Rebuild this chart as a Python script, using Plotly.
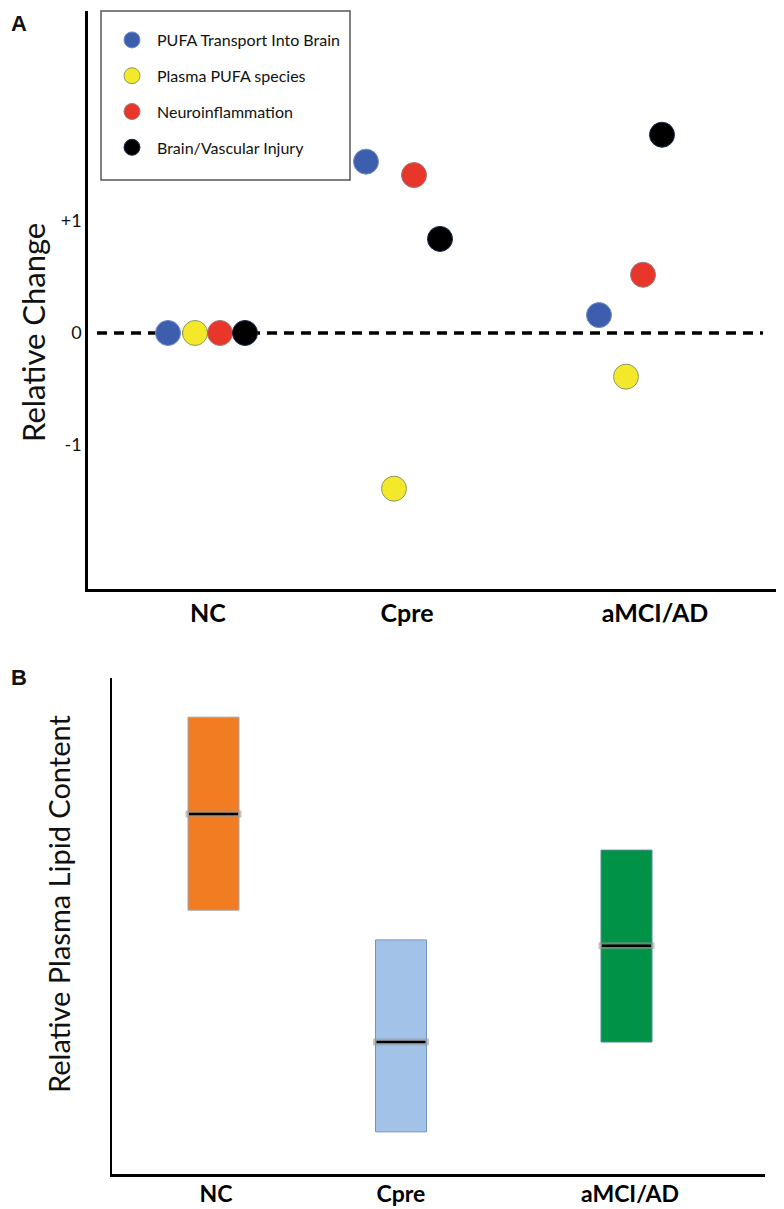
import plotly.graph_objects as go

# ---------------- Panel A data ----------------
groups_a = ["NC", "Cpre", "aMCI/AD"]
tick_pos_a = [1.20, 3.19, 5.67]             # category label positions on panel A x axis

series_names = ["PUFA Transport Into Brain", "Plasma PUFA species",
                "Neuroinflammation", "Brain/Vascular Injury"]
series_x = {
    "PUFA Transport Into Brain": [0.80, 2.78, 5.11],
    "Plasma PUFA species":       [1.07, 3.06, 5.38],
    "Neuroinflammation":         [1.32, 3.26, 5.55],
    "Brain/Vascular Injury":     [1.57, 3.52, 5.74],
}
series_y = {
    "PUFA Transport Into Brain": [0.0, 1.53, 0.16],
    "Plasma PUFA species":       [0.0, -1.39, -0.39],
    "Neuroinflammation":         [0.0, 1.41, 0.52],
    "Brain/Vascular Injury":     [0.0, 0.84, 1.77],
}
ytick_vals_a = [-1, 0, 1]
ytick_text_a = ["-1", "0", "+1"]
zero_line_x = [0.09, 6.75]
zero_line_y = [0, 0]
ytitle_a = "Relative Change"

# ---------------- Panel B data ----------------
groups_b = ["NC", "Cpre", "aMCI/AD"]
tick_pos_b = [1.04, 2.89, 5.18]
box_pos_b = [1.015, 2.89, 5.145]
box_low = [5.32, 0.85, 2.66]
box_high = [9.21, 4.72, 6.53]
box_median = [7.26, 2.66, 4.60]
box_width = 0.51
ytitle_b = "Relative Plasma Lipid Content"

# ---------------- styles ----------------
dot_fill = {
    "PUFA Transport Into Brain": "#3d5eac",
    "Plasma PUFA species": "#f3e82a",
    "Neuroinflammation": "#e8362a",
    "Brain/Vascular Injury": "#000000",
}
dot_edge = {
    "PUFA Transport Into Brain": "#6d8ccc",
    "Plasma PUFA species": "#8c9a60",
    "Neuroinflammation": "#a07878",
    "Brain/Vascular Injury": "#1a2a4a",
}
box_fill = ["#f27c22", "#a2c2e8", "#009247"]
box_edge = ["#9aa6b6", "#6f95c8", "#4e8f98"]

FONT = "Lato"
W, H = 784, 1209

fig = go.Figure()

# zero dashed line (panel A)
fig.add_trace(go.Scatter(x=zero_line_x, y=zero_line_y, mode="lines",
                         line=dict(color="black", width=3.5, dash="10px,7px"),
                         showlegend=False, hoverinfo="skip",
                         xaxis="x", yaxis="y"))

for name in series_names:
    fig.add_trace(go.Scatter(
        x=series_x[name], y=series_y[name], mode="markers", name=name,
        legendgroup=name,
        marker=dict(size=25, color=dot_fill[name],
                    line=dict(color=dot_edge[name], width=1)),
        xaxis="x", yaxis="y"))

# Panel B bars (range boxes)
heights = [h - l for h, l in zip(box_high, box_low)]
fig.add_trace(go.Bar(x=box_pos_b, y=heights, base=box_low, width=box_width,
                     marker=dict(color=box_fill, line=dict(color=box_edge, width=1)),
                     showlegend=False, hoverinfo="skip", xaxis="x2", yaxis="y2"))

# median lines with soft grey halo
hx, hy, mx, my = [], [], [], []
for c, m in zip(box_pos_b, box_median):
    hx += [c - box_width / 2 - 0.025, c + box_width / 2 + 0.025, None]
    hy += [m, m, None]
    mx += [c - box_width / 2 + 0.01, c + box_width / 2 - 0.01, None]
    my += [m, m, None]
fig.add_trace(go.Scatter(x=hx, y=hy, mode="lines",
                         line=dict(color="rgba(150,150,150,0.55)", width=7),
                         showlegend=False, hoverinfo="skip", xaxis="x2", yaxis="y2"))
fig.add_trace(go.Scatter(x=mx, y=my, mode="lines",
                         line=dict(color="black", width=2.5),
                         showlegend=False, hoverinfo="skip", xaxis="x2", yaxis="y2"))


def px_x(p):
    return p / W


def px_y(p):
    return 1 - p / H


fig.update_layout(
    width=W, height=H, margin=dict(l=0, r=0, t=0, b=0),
    paper_bgcolor="white", plot_bgcolor="white",
    font=dict(family=FONT, color="#111111"),
    xaxis=dict(domain=[px_x(80), px_x(782)], range=[0, 7.02],
               showline=True, linewidth=2.5, linecolor="black",
               showgrid=False, zeroline=False,
               tickvals=tick_pos_a, ticktext=groups_a, ticks="",
               tickfont=dict(family=FONT, size=25, weight="bold", color="black"),
               fixedrange=True),
    yaxis=dict(domain=[px_y(581), px_y(3)], range=[-2.286, 2.875],
               showline=True, linewidth=2.5, linecolor="black",
               showgrid=False, zeroline=False,
               tickvals=ytick_vals_a, ticktext=ytick_text_a, ticks="",
               tickfont=dict(family=FONT, size=18, color="#111111"),
               fixedrange=True),
    xaxis2=dict(domain=[px_x(104), px_x(757)], range=[0, 6.53],
                anchor="y2",
                showline=True, linewidth=2.5, linecolor="black",
                showgrid=False, zeroline=False,
                tickvals=tick_pos_b, ticktext=groups_b,
                ticks="", ticklabelstandoff=-2,
                tickfont=dict(family=FONT, size=23, weight="bold", color="black"),
                fixedrange=True),
    yaxis2=dict(domain=[px_y(1166), px_y(670)], range=[0, 10],
                anchor="x2",
                showline=True, linewidth=2, linecolor="black",
                showgrid=False, zeroline=False, showticklabels=False, ticks="",
                fixedrange=True),
    showlegend=True,
    legend=dict(x=px_x(96), y=px_y(15), xanchor="left", yanchor="top",
                bgcolor="rgba(0,0,0,0)", borderwidth=0,
                font=dict(family=FONT, size=16, color="#111111"),
                traceorder="grouped", tracegroupgap=12,
                itemsizing="trace", indentation=3, itemwidth=40),
    shapes=[
        dict(type="rect", xref="paper", yref="paper", layer="below",
             x0=px_x(93), x1=px_x(342), y0=px_y(172), y1=px_y(3),
             line=dict(color="#555555", width=1.5), fillcolor="white"),
    ],
    annotations=[
        dict(text="<b>A</b>", x=px_x(11), y=px_y(15), xref="paper", yref="paper",
             xanchor="center", yanchor="middle", showarrow=False,
             font=dict(family="Liberation Sans", size=22, color="#111111")),
        dict(text="<b>B</b>", x=px_x(11), y=px_y(669), xref="paper", yref="paper",
             xanchor="center", yanchor="middle", showarrow=False,
             font=dict(family="Liberation Sans", size=22, color="#111111")),
        dict(text=ytitle_a, x=px_x(25), y=px_y(325), xref="paper", yref="paper",
             xanchor="center", yanchor="middle", textangle=-90, showarrow=False,
             font=dict(family=FONT, size=31, color="#111111")),
        dict(text=ytitle_b, x=px_x(50), y=px_y(896), xref="paper", yref="paper",
             xanchor="center", yanchor="middle", textangle=-90, showarrow=False,
             font=dict(family=FONT, size=29, color="#111111")),
    ],
)

fig.write_html("out.html")
